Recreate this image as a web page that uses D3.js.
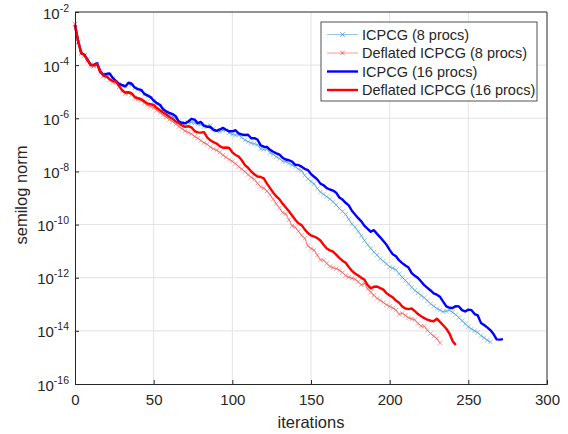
<!DOCTYPE html>
<html>
<head>
<meta charset="utf-8">
<script src="https://cdn.jsdelivr.net/npm/d3@7"></script>
<style>
  body { margin: 0; background: #fff; }
  text { font-family: "Liberation Sans", Arial, sans-serif; fill: #262626; }
</style>
</head>
<body>
<div id="graphic" width="568" height="434"></div>
<script>
// log10 of the residual norm, one value every 2 iterations
const step = 2;

const icpcg8Exp = [
  -2.47, -3.15, -3.52, -3.63, -3.78, -3.96, -4.02, -3.95, -4.20, -4.39,
  -4.35, -4.36, -4.50, -4.63, -4.71, -4.78, -4.79, -4.70, -4.75, -4.86,
  -4.92, -4.97, -5.10, -5.17, -5.25, -5.36, -5.46, -5.53, -5.68, -5.80,
  -5.86, -5.93, -6.02, -6.12, -6.17, -6.19, -6.16, -6.15, -6.18, -6.22,
  -6.24, -6.31, -6.30, -6.27, -6.38, -6.47, -6.49, -6.45, -6.45, -6.55,
  -6.61, -6.63, -6.63, -6.72, -6.82, -6.88, -6.93, -6.96, -7.00, -7.15,
  -7.17, -7.16, -7.30, -7.36, -7.45, -7.52, -7.62, -7.63, -7.70, -7.76,
  -7.82, -7.92, -7.97, -8.15, -8.28, -8.38, -8.47, -8.64, -8.78, -8.86,
  -8.95, -9.04, -9.14, -9.26, -9.39, -9.50, -9.62, -9.80, -9.98, -10.10,
  -10.26, -10.42, -10.60, -10.76, -10.90, -11.03, -11.15, -11.28, -11.38, -11.48,
  -11.59, -11.64, -11.70, -11.85, -11.99, -12.10, -12.23, -12.36, -12.48, -12.57,
  -12.67, -12.75, -12.87, -12.98, -13.07, -13.16, -13.22, -13.28, -13.26, -13.22,
  -13.30, -13.39, -13.50, -13.62, -13.73, -13.85, -13.93, -14.00, -14.06, -14.18,
  -14.26, -14.35, -14.42
];

const deflated8Exp = [
  -2.45, -3.12, -3.56, -3.64, -3.84, -4.03, -4.04, -3.99, -4.28, -4.42,
  -4.46, -4.56, -4.64, -4.66, -4.82, -4.98, -5.07, -5.06, -5.11, -5.24,
  -5.29, -5.33, -5.42, -5.50, -5.55, -5.60, -5.70, -5.79, -5.88, -5.96,
  -6.05, -6.12, -6.22, -6.31, -6.39, -6.48, -6.53, -6.59, -6.68, -6.75,
  -6.84, -6.92, -6.98, -7.08, -7.15, -7.20, -7.28, -7.39, -7.47, -7.55,
  -7.62, -7.71, -7.82, -7.91, -8.01, -8.12, -8.22, -8.30, -8.45, -8.58,
  -8.63, -8.74, -8.88, -9.05, -9.22, -9.38, -9.55, -9.60, -9.82, -10.05,
  -10.10, -10.25, -10.40, -10.52, -10.80, -10.90, -10.96, -11.15, -11.33, -11.34,
  -11.46, -11.58, -11.62, -11.66, -11.72, -11.80, -11.92, -11.98, -12.02, -12.06,
  -12.15, -12.27, -12.22, -12.42, -12.55, -12.66, -12.78, -12.85, -12.93, -13.02,
  -13.08, -13.14, -13.22, -13.38, -13.34, -13.42, -13.51, -13.55, -13.58, -13.72,
  -13.82, -13.83, -13.98, -14.10, -14.20, -14.29, -14.45
];

const icpcg16Exp = [
  -2.49, -3.10, -3.55, -3.61, -3.80, -3.99, -3.99, -3.93, -4.22, -4.37,
  -4.33, -4.31, -4.48, -4.60, -4.70, -4.75, -4.80, -4.66, -4.70, -4.84,
  -4.90, -4.93, -5.08, -5.14, -5.20, -5.33, -5.43, -5.49, -5.66, -5.74,
  -5.80, -5.84, -5.92, -6.13, -6.17, -6.19, -6.12, -6.02, -6.05, -6.18,
  -6.14, -6.28, -6.32, -6.33, -6.44, -6.47, -6.42, -6.36, -6.43, -6.49,
  -6.49, -6.45, -6.57, -6.61, -6.63, -6.62, -6.75, -6.75, -6.80, -7.02,
  -7.07, -7.08, -7.19, -7.26, -7.32, -7.37, -7.49, -7.55, -7.58, -7.63,
  -7.75, -7.76, -7.82, -7.90, -7.95, -8.10, -8.20, -8.30, -8.46, -8.52,
  -8.63, -8.68, -8.72, -8.80, -8.98, -9.06, -9.18, -9.28, -9.48, -9.62,
  -9.76, -9.88, -10.05, -10.16, -10.27, -10.21, -10.35, -10.48, -10.62, -10.76,
  -10.95, -11.12, -11.19, -11.35, -11.45, -11.54, -11.62, -11.83, -11.93, -12.01,
  -12.14, -12.28, -12.38, -12.48, -12.59, -12.64, -12.72, -12.90, -13.08, -13.13,
  -13.14, -13.07, -13.08, -13.22, -13.27, -13.20, -13.22, -13.37, -13.42, -13.70,
  -13.78, -13.87, -13.97, -14.12, -14.32, -14.33, -14.31
];

const deflated16Exp = [
  -2.49, -3.10, -3.55, -3.62, -3.82, -4.00, -4.01, -3.96, -4.25, -4.39,
  -4.42, -4.53, -4.60, -4.61, -4.78, -4.95, -5.03, -5.02, -5.06, -5.20,
  -5.24, -5.28, -5.36, -5.44, -5.47, -5.50, -5.61, -5.70, -5.78, -5.86,
  -5.95, -6.02, -6.12, -6.19, -6.27, -6.32, -6.30, -6.34, -6.48, -6.53,
  -6.54, -6.52, -6.72, -6.83, -6.90, -6.95, -7.05, -7.11, -7.10, -7.12,
  -7.28, -7.38, -7.44, -7.58, -7.76, -7.86, -8.00, -8.11, -8.19, -8.21,
  -8.26, -8.46, -8.63, -8.80, -8.94, -9.05, -9.22, -9.36, -9.50, -9.66,
  -9.82, -9.95, -10.02, -10.18, -10.32, -10.41, -10.45, -10.51, -10.60, -10.76,
  -10.90, -10.97, -11.02, -11.13, -11.25, -11.36, -11.44, -11.60, -11.74, -11.84,
  -11.92, -12.00, -12.08, -12.28, -12.40, -12.34, -12.33, -12.39, -12.45, -12.58,
  -12.67, -12.74, -12.86, -12.94, -13.08, -13.16, -13.18, -13.16, -13.26, -13.37,
  -13.45, -13.52, -13.58, -13.62, -13.64, -13.54, -13.66, -13.79, -13.92, -14.10,
  -14.38, -14.53
];

const seriesNames = [
  "ICPCG (8 procs)",
  "Deflated ICPCG (8 procs)",
  "ICPCG (16 procs)",
  "Deflated ICPCG (16 procs)"
];
const xTicks = [0, 50, 100, 150, 200, 250, 300];
const yTickExps = [-2, -4, -6, -8, -10, -12, -14, -16];

// series table for drawing, in plot order
let series = [
  {name: seriesNames[0], exps: icpcg8Exp, color: "#3f98d2", width: 0.8, marker: true},
  {name: seriesNames[1], exps: deflated8Exp, color: "#f04848", width: 0.8, marker: true},
  {name: seriesNames[2], exps: icpcg16Exp, color: "#0000ff", width: 2.4, marker: false},
  {name: seriesNames[3], exps: deflated16Exp, color: "#ff0000", width: 2.4, marker: false}
];
series.forEach(s => {
  s.points = s.exps.map((e, i) => ({it: i * step, v: Math.pow(10, e)}));
});

let margin = {top: 12, right: 21, bottom: 50, left: 75};
let width = 568 - margin.left - margin.right;
let height = 434 - margin.top - margin.bottom;

let svg = d3.select("#graphic")
  .append("svg")
    .attr("width", 568)
    .attr("height", 434)
  .append("g")
    .attr("transform", "translate(" + margin.left + "," + margin.top + ")");

let x = d3.scaleLinear().domain([0, 300]).range([0, width]);
let y = d3.scaleLog().domain([1e-16, 1e-2]).range([height, 0]);

// grid
svg.append("g").selectAll("line")
  .data(xTicks.slice(1, -1))
  .enter().append("line")
    .attr("x1", d => x(d)).attr("x2", d => x(d))
    .attr("y1", 0).attr("y2", height)
    .attr("stroke", "#e3e3e3").attr("stroke-width", 1);
svg.append("g").selectAll("line")
  .data(yTickExps.slice(1, -1))
  .enter().append("line")
    .attr("x1", 0).attr("x2", width)
    .attr("y1", d => y(Math.pow(10, d))).attr("y2", d => y(Math.pow(10, d)))
    .attr("stroke", "#e3e3e3").attr("stroke-width", 1);

// lines
let line = d3.line()
  .x(d => x(d.it))
  .y(d => y(d.v));

let cross = "M-2.2,-2.2L2.2,2.2M-2.2,2.2L2.2,-2.2";

series.forEach(s => {
  svg.append("path")
    .datum(s.points)
    .attr("fill", "none")
    .attr("stroke", s.color)
    .attr("stroke-width", s.width)
    .attr("stroke-opacity", s.marker ? 0.9 : 1)
    .attr("stroke-linejoin", "round")
    .attr("d", line);
  if (s.marker) {
    svg.append("g").selectAll("path")
      .data(s.points)
      .enter().append("path")
        .attr("transform", d => "translate(" + x(d.it) + "," + y(d.v) + ")")
        .attr("d", cross)
        .attr("fill", "none")
        .attr("stroke", s.color)
        .attr("stroke-opacity", 0.75)
        .attr("stroke-width", 0.7);
  }
});

// axes
let xAxis = svg.append("g")
  .attr("transform", "translate(0," + height + ")")
  .call(d3.axisBottom(x).tickValues(xTicks).tickSize(-4).tickPadding(10));
xAxis.selectAll("text").style("font-size", "15px").attr("fill", "#262626");

let yAxis = svg.append("g")
  .call(d3.axisLeft(y).tickValues(yTickExps.map(e => Math.pow(10, e))).tickSize(-4).tickFormat(""));
yAxis.selectAll(".tick").append("text")
  .attr("x", -6)
  .attr("dy", "0.4em")
  .attr("text-anchor", "end")
  .style("font-size", "15px")
  .attr("fill", "#262626")
  .each(function(d) {
    let t = d3.select(this);
    t.append("tspan").text("10");
    t.append("tspan").attr("dy", "-7").style("font-size", "10.5px").text(Math.round(Math.log10(d)));
  });

svg.selectAll(".domain").attr("stroke", "#262626");
svg.selectAll(".tick line").attr("stroke", "#262626");

// top and right box edges
svg.append("line").attr("x1", 0).attr("x2", width).attr("y1", 0).attr("y2", 0)
  .attr("stroke", "#262626");
svg.append("line").attr("x1", width).attr("x2", width).attr("y1", 0).attr("y2", height)
  .attr("stroke", "#262626");

// axis labels
svg.append("text")
  .attr("x", width / 2)
  .attr("y", height + 44)
  .attr("text-anchor", "middle")
  .style("font-size", "16.5px")
  .text("iterations");
svg.append("text")
  .attr("transform", "translate(-48," + (height / 2 - 3) + ")rotate(-90)")
  .attr("text-anchor", "middle")
  .style("font-size", "16.5px")
  .text("semilog norm");

// legend
let legend = svg.append("g").attr("transform", "translate(246,10)");
legend.append("rect")
  .attr("width", 216).attr("height", 79)
  .attr("fill", "#fff").attr("stroke", "#262626").attr("stroke-width", 0.8);
series.forEach((s, i) => {
  let row = legend.append("g").attr("transform", "translate(0," + (12.5 + i * 18.5) + ")");
  row.append("line")
    .attr("x1", 6).attr("x2", 37)
    .attr("stroke", s.color)
    .attr("stroke-opacity", s.marker ? 0.7 : 1)
    .attr("stroke-width", s.width);
  if (s.marker) {
    row.append("path")
      .attr("transform", "translate(21.5,0)")
      .attr("d", cross)
      .attr("fill", "none")
      .attr("stroke", s.color)
      .attr("stroke-width", 0.8);
  }
  row.append("text")
    .attr("x", 41)
    .attr("dy", "0.35em")
    .style("font-size", "14.5px")
    .text(s.name);
});
</script>
</body>
</html>
